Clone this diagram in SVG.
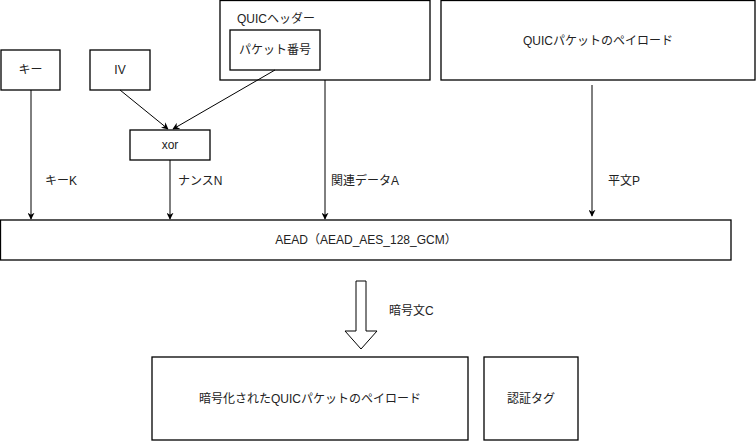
<svg xmlns="http://www.w3.org/2000/svg" width="756" height="441" viewBox="0 0 756 441">
<defs>
<style>
.box{fill:#fff;stroke:#000;stroke-width:1.3}
.t{font-family:"Liberation Sans","Noto Sans CJK JP",sans-serif;font-size:12px;fill:#222}
.c{text-anchor:middle;dominant-baseline:central}
.e{stroke:#000;stroke-width:1;fill:none;marker-end:url(#ah)}
</style>
<marker id="ah" viewBox="0 0 10 10" refX="9" refY="5" markerWidth="7" markerHeight="7" markerUnits="userSpaceOnUse" orient="auto"><path d="M0,0 L10,5 L0,10 L3,5 z" fill="#000"/></marker>
</defs>
<rect width="756" height="441" fill="#fff"/>
<g id="key"><rect class="box" x="1" y="50" width="59" height="40"/><text class="t c" x="30.5" y="70">キー</text></g>
<g id="iv"><rect class="box" x="90" y="50" width="60" height="40"/><text class="t c" x="120" y="70">IV</text></g>
<g id="header"><rect class="box" x="220" y="0.5" width="210" height="79.5"/><text class="t" x="237" y="23">QUICヘッダー</text></g>
<g id="pn"><rect class="box" x="230" y="30" width="90" height="40"/><text class="t c" x="275" y="50">パケット番号</text></g>
<g id="payload"><rect class="box" x="441" y="0.5" width="314" height="79.5"/><text class="t c" x="598" y="41">QUICパケットのペイロード</text></g>
<g id="xor"><rect class="box" x="130" y="130" width="80" height="30"/><text class="t c" x="170" y="145">xor</text></g>
<g id="aead"><rect class="box" x="0.5" y="220" width="730.5" height="40"/><text class="t c" x="366" y="240">AEAD（AEAD_AES_128_GCM）</text></g>
<g id="enc"><rect class="box" x="152" y="357" width="316" height="83"/><text class="t c" x="310" y="399">暗号化されたQUICパケットのペイロード</text></g>
<g id="tag"><rect class="box" x="484" y="357" width="94" height="83"/><text class="t c" x="531" y="399">認証タグ</text></g>
<g id="connectors">
<path class="e" d="M31,90 V219"/>
<path class="e" d="M120,90 L168,129"/>
<path class="e" d="M275,70 L173,129"/>
<path class="e" d="M170,160 V219"/>
<path class="e" d="M325,80 V219"/>
<path class="e" d="M592,85 V216"/>
<path d="M356,281 H366 V331 H377 L361,349 L345,331 H356 Z" fill="#fff" stroke="#000" stroke-width="1"/>
</g>
<g id="labels">
<text class="t" x="45" y="185">キーK</text>
<text class="t" x="178" y="185">ナンスN</text>
<text class="t" x="331" y="185">関連データA</text>
<text class="t" x="608" y="185">平文P</text>
<text class="t" x="389" y="315">暗号文C</text>
</g>
</svg>
